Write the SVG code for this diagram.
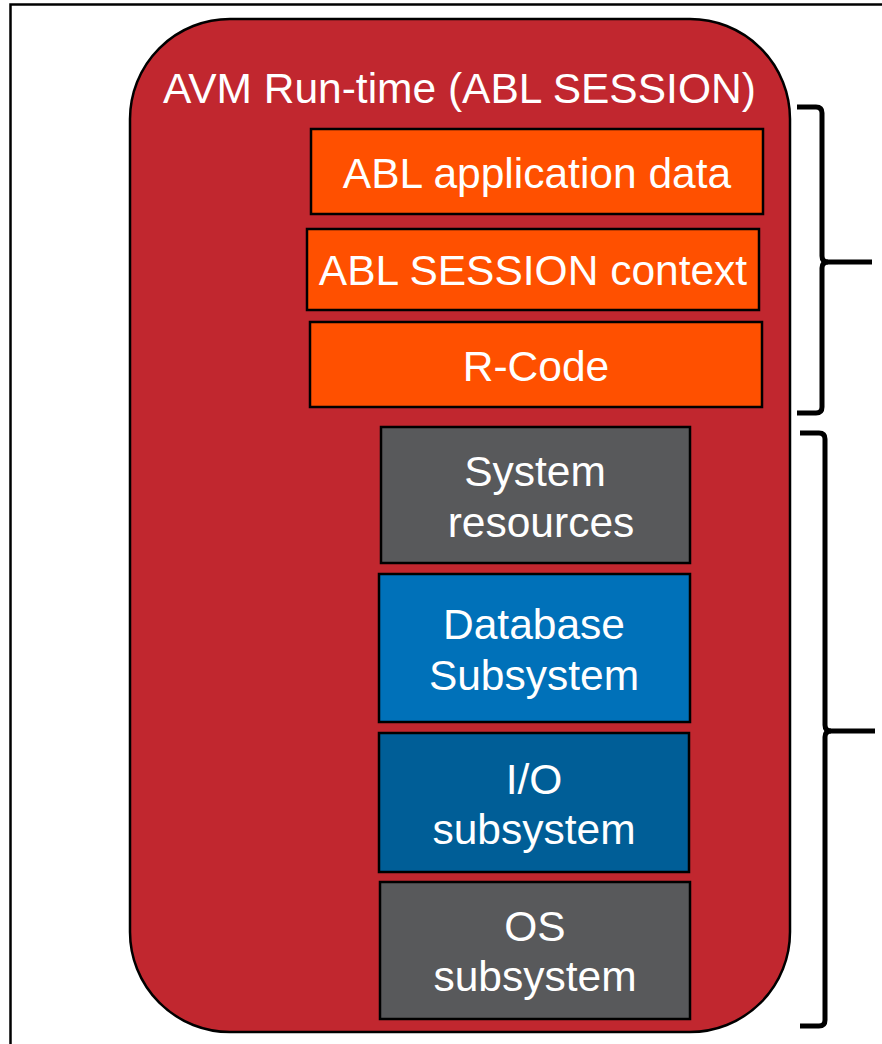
<svg xmlns="http://www.w3.org/2000/svg" width="882" height="1044" viewBox="0 0 882 1044">
<style>
.t{font-family:"Liberation Sans",Arial,sans-serif;font-size:42.5px;fill:#fff;text-anchor:middle}
.b{stroke:#000;stroke-width:2.5}
.br{fill:none;stroke:#000;stroke-width:5;stroke-linejoin:round}
</style>
<rect x="0" y="0" width="882" height="1044" fill="#fff"/>
<path d="M10.5,1050 V4.5 H890" fill="none" stroke="#000" stroke-width="2.5"/>
<g id="runtime">
<rect x="130" y="19" width="660" height="1013" rx="100" ry="100" fill="#C1272F" stroke="#000" stroke-width="2.5"/>
<text x="163" y="103" style="font-family:'Liberation Sans',Arial,sans-serif;font-size:42.5px;fill:#fff">AVM Run-time (ABL SESSION)</text>
</g>
<g id="app-data"><rect class="b" x="311" y="129" width="452" height="85" fill="#FF5000"/><text class="t" x="537" y="188">ABL application data</text></g>
<g id="session-context"><rect class="b" x="307" y="229" width="452" height="81" fill="#FF5000"/><text class="t" x="533" y="285">ABL SESSION context</text></g>
<g id="rcode"><rect class="b" x="310" y="322" width="452" height="85" fill="#FF5000"/><text class="t" x="536" y="381">R-Code</text></g>
<g id="system-resources"><rect class="b" x="381" y="427" width="309" height="136" fill="#58595B"/><text class="t" x="535" y="486">System</text><text class="t" x="541" y="537">resources</text></g>
<g id="database"><rect class="b" x="379" y="574" width="311" height="148" fill="#0071B9"/><text class="t" x="534" y="639">Database</text><text class="t" x="534" y="690">Subsystem</text></g>
<g id="io"><rect class="b" x="379" y="733" width="310" height="139" fill="#005E97"/><text class="t" x="534" y="794">I/O</text><text class="t" x="534" y="844">subsystem</text></g>
<g id="os"><rect class="b" x="380" y="882" width="310" height="137" fill="#58595B"/><text class="t" x="535" y="941">OS</text><text class="t" x="535" y="991">subsystem</text></g>
<g id="connectors">
<path class="br" d="M797,107 H816 Q822,107 822,113 V256 Q822,262 828,262 H848 M848,262 H872"/>
<path class="br" d="M797,413 H816 Q822,413 822,407 V268 Q822,262 828,262"/>
<path class="br" d="M800,433 H819 Q825,433 825,439 V725 Q825,731 831,731 H875"/>
<path class="br" d="M800,1026 H819 Q825,1026 825,1020 V737 Q825,731 831,731"/>
</g>
</svg>
